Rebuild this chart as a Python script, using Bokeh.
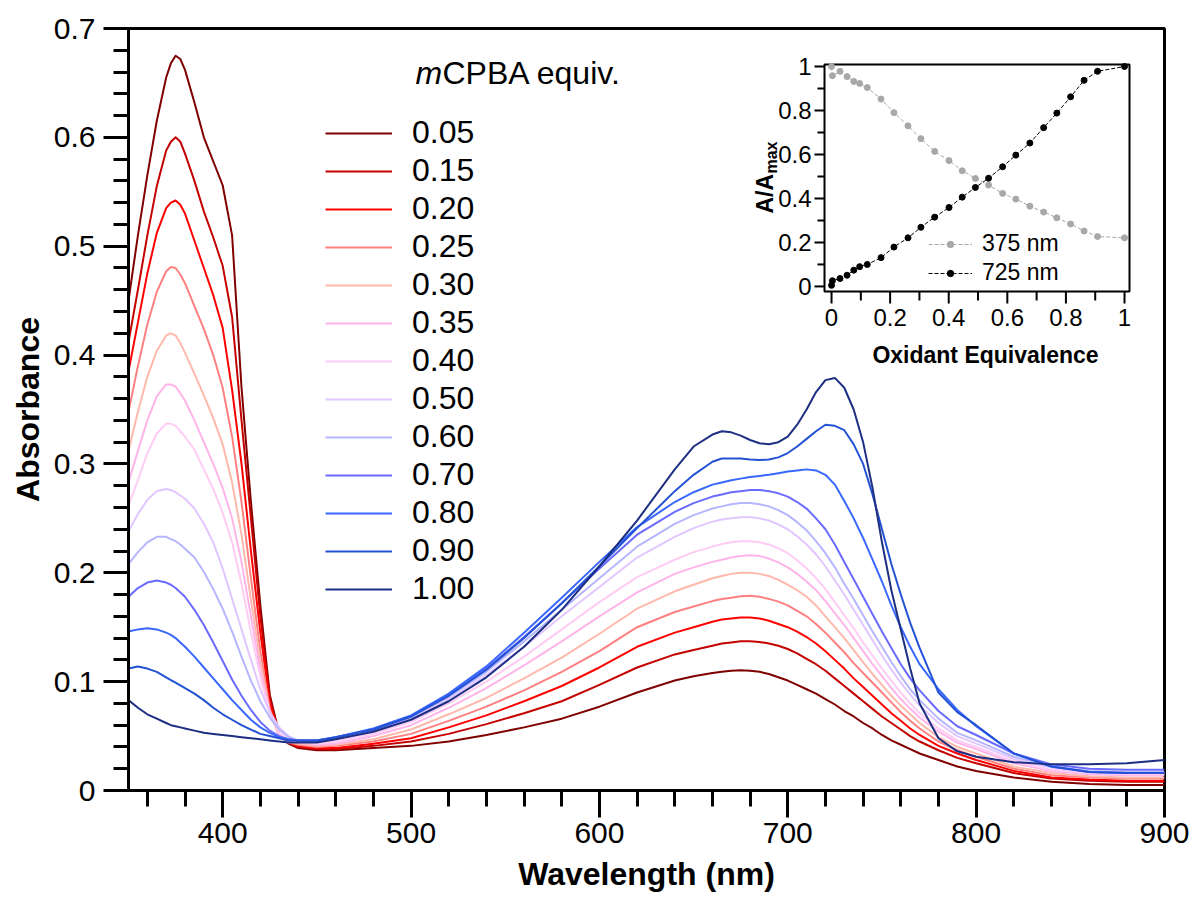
from math import pi
from bokeh.plotting import figure
from bokeh.models import (FixedTicker, Legend, LegendItem, Range1d, CustomJSTickFormatter)
from bokeh.core.properties import value
from bokeh.embed import file_html
from bokeh.resources import INLINE

FONT = "Liberation Sans"

# ---------------- data ----------------
wavelength = [350, 355, 360, 365, 370, 372.5, 375, 377.5, 380, 385, 390, 395, 400, 405, 410, 415, 420, 425, 430, 435, 440,
              450, 460,
              480, 500, 520, 540, 560, 580, 600, 620, 640,
              650, 660, 665, 670, 675, 680, 685, 690, 695, 700, 705,
              710, 715, 720, 725, 730, 735, 740, 745, 750, 755, 760, 765, 770,
              780, 790, 800,
              820, 840, 860, 880, 900]

abs_005 = [0.450, 0.510, 0.565, 0.615, 0.655, 0.668, 0.675, 0.672, 0.662, 0.632, 0.600, 0.578, 0.556, 0.510, 0.370, 0.265, 0.170, 0.088, 0.052, 0.043, 0.039,
           0.037, 0.037,
           0.039, 0.041, 0.045, 0.051, 0.058, 0.066, 0.077, 0.090, 0.101,
           0.105, 0.108, 0.109, 0.110, 0.1105, 0.110, 0.109, 0.107, 0.104, 0.101, 0.097,
           0.093, 0.089, 0.084, 0.079, 0.073, 0.068, 0.062, 0.057, 0.051, 0.046, 0.042, 0.038, 0.034,
           0.028, 0.022, 0.018,
           0.012, 0.008, 0.006, 0.005, 0.005]
abs_015 = [0.412, 0.460, 0.510, 0.555, 0.588, 0.596, 0.600, 0.596, 0.585, 0.560, 0.532, 0.508, 0.482, 0.435, 0.340, 0.250, 0.160, 0.085, 0.052, 0.044, 0.040,
           0.038, 0.038,
           0.041, 0.045, 0.052, 0.061, 0.071, 0.082, 0.097, 0.113, 0.125,
           0.129, 0.133, 0.135, 0.136, 0.137, 0.137, 0.1365, 0.135, 0.133, 0.130, 0.126,
           0.121, 0.116, 0.110, 0.103, 0.096, 0.089, 0.082, 0.075, 0.068, 0.062, 0.056, 0.050, 0.045,
           0.037, 0.030, 0.025,
           0.016, 0.011, 0.009, 0.008, 0.008]
abs_020 = [0.385, 0.430, 0.475, 0.512, 0.535, 0.540, 0.542, 0.538, 0.530, 0.505, 0.480, 0.455, 0.425, 0.368, 0.300, 0.220, 0.145, 0.080, 0.051, 0.044, 0.041,
           0.039, 0.039,
           0.043, 0.048, 0.058, 0.069, 0.082, 0.096, 0.113, 0.132, 0.145,
           0.150, 0.155, 0.157, 0.158, 0.159, 0.159, 0.158, 0.156, 0.153, 0.150, 0.146,
           0.141, 0.135, 0.128, 0.120, 0.112, 0.103, 0.095, 0.087, 0.079, 0.071, 0.064, 0.057, 0.051,
           0.041, 0.034, 0.028,
           0.018, 0.012, 0.010, 0.009, 0.009]
abs_025 = [0.348, 0.390, 0.428, 0.458, 0.477, 0.481, 0.480, 0.474, 0.466, 0.445, 0.424, 0.400, 0.370, 0.325, 0.265, 0.195, 0.128, 0.075, 0.050, 0.044, 0.042,
           0.040, 0.041,
           0.045, 0.052, 0.064, 0.077, 0.092, 0.109, 0.128, 0.150, 0.164,
           0.169, 0.174, 0.176, 0.177, 0.1785, 0.179, 0.178, 0.176, 0.1735, 0.170, 0.165,
           0.160, 0.153, 0.145, 0.136, 0.127, 0.117, 0.108, 0.099, 0.090, 0.081, 0.072, 0.064, 0.057,
           0.045, 0.037, 0.031,
           0.020, 0.014, 0.012, 0.011, 0.011]
abs_030 = [0.312, 0.348, 0.380, 0.404, 0.418, 0.420, 0.418, 0.411, 0.402, 0.383, 0.363, 0.342, 0.318, 0.283, 0.235, 0.175, 0.118, 0.072, 0.050, 0.045, 0.043,
           0.041, 0.042,
           0.047, 0.056, 0.070, 0.085, 0.103, 0.122, 0.144, 0.167, 0.183,
           0.189, 0.195, 0.197, 0.199, 0.200, 0.200, 0.199, 0.197, 0.1935, 0.189, 0.184,
           0.178, 0.170, 0.160, 0.150, 0.140, 0.129, 0.118, 0.107, 0.097, 0.087, 0.078, 0.070, 0.062,
           0.049, 0.040, 0.034,
           0.022, 0.016, 0.013, 0.012, 0.012]
abs_035 = [0.283, 0.312, 0.340, 0.362, 0.373, 0.373, 0.371, 0.365, 0.358, 0.340, 0.320, 0.300, 0.278, 0.250, 0.210, 0.160, 0.110, 0.072, 0.052, 0.046, 0.044,
           0.042, 0.043,
           0.050, 0.060, 0.076, 0.094, 0.115, 0.137, 0.160, 0.182, 0.199,
           0.205, 0.210, 0.212, 0.214, 0.2155, 0.216, 0.2155, 0.213, 0.2095, 0.205, 0.199,
           0.192, 0.184, 0.174, 0.163, 0.152, 0.140, 0.128, 0.116, 0.105, 0.094, 0.084, 0.075, 0.067,
           0.054, 0.044, 0.038,
           0.025, 0.018, 0.015, 0.014, 0.014]
abs_040 = [0.262, 0.285, 0.310, 0.328, 0.337, 0.337, 0.335, 0.330, 0.325, 0.313, 0.295, 0.277, 0.255, 0.228, 0.190, 0.145, 0.104, 0.071, 0.053, 0.047, 0.045,
           0.043, 0.045,
           0.052, 0.063, 0.080, 0.100, 0.123, 0.148, 0.173, 0.196, 0.212,
           0.219, 0.224, 0.2265, 0.228, 0.229, 0.229, 0.228, 0.226, 0.2225, 0.218, 0.2115,
           0.204, 0.195, 0.185, 0.173, 0.161, 0.149, 0.136, 0.124, 0.112, 0.101, 0.090, 0.080, 0.071,
           0.057, 0.046, 0.040,
           0.027, 0.019, 0.016, 0.015, 0.015]
abs_050 = [0.238, 0.254, 0.267, 0.275, 0.277, 0.276, 0.274, 0.271, 0.268, 0.259, 0.245, 0.228, 0.204, 0.176, 0.148, 0.120, 0.093, 0.072, 0.058, 0.050, 0.046,
           0.045, 0.047,
           0.054, 0.066, 0.084, 0.106, 0.132, 0.160, 0.187, 0.214, 0.233,
           0.241, 0.247, 0.249, 0.250, 0.251, 0.251, 0.250, 0.248, 0.2445, 0.240, 0.2335,
           0.226, 0.217, 0.206, 0.193, 0.180, 0.166, 0.152, 0.138, 0.124, 0.111, 0.099, 0.088, 0.078,
           0.062, 0.050, 0.043,
           0.029, 0.021, 0.017, 0.016, 0.016]
abs_060 = [0.208, 0.219, 0.228, 0.233, 0.233, 0.231, 0.229, 0.226, 0.222, 0.214, 0.201, 0.185, 0.167, 0.146, 0.123, 0.101, 0.082, 0.067, 0.056, 0.049, 0.046,
           0.045, 0.048,
           0.055, 0.067, 0.086, 0.109, 0.137, 0.166, 0.195, 0.224, 0.245,
           0.253, 0.259, 0.261, 0.263, 0.264, 0.264, 0.263, 0.261, 0.2575, 0.253, 0.2465,
           0.239, 0.229, 0.218, 0.205, 0.190, 0.176, 0.161, 0.146, 0.132, 0.118, 0.105, 0.093, 0.083,
           0.066, 0.053, 0.046,
           0.031, 0.022, 0.018, 0.017, 0.017]
abs_070 = [0.178, 0.186, 0.191, 0.193, 0.191, 0.189, 0.186, 0.182, 0.178, 0.166, 0.152, 0.136, 0.119, 0.102, 0.087, 0.074, 0.063, 0.055, 0.050, 0.047, 0.046,
           0.046, 0.049,
           0.056, 0.068, 0.088, 0.112, 0.141, 0.172, 0.204, 0.235, 0.256,
           0.264, 0.270, 0.272, 0.274, 0.275, 0.276, 0.276, 0.275, 0.273, 0.270, 0.265,
           0.259, 0.250, 0.240, 0.226, 0.210, 0.194, 0.178, 0.162, 0.146, 0.131, 0.116, 0.103, 0.092,
           0.073, 0.059, 0.051,
           0.034, 0.024, 0.020, 0.019, 0.019]
abs_080 = [0.146, 0.148, 0.149, 0.148, 0.145, 0.143, 0.140, 0.136, 0.132, 0.123, 0.113, 0.103, 0.093, 0.083, 0.074, 0.065, 0.058, 0.053, 0.049, 0.047, 0.046,
           0.046, 0.049,
           0.057, 0.069, 0.089, 0.114, 0.145, 0.177, 0.210, 0.242, 0.265,
           0.274, 0.281, 0.283, 0.285, 0.2865, 0.288, 0.289, 0.290, 0.2915, 0.293, 0.294,
           0.295, 0.294, 0.290, 0.281, 0.266, 0.250, 0.232, 0.212, 0.192, 0.170, 0.150, 0.132, 0.116,
           0.093, 0.074, 0.059,
           0.034, 0.022, 0.017, 0.016, 0.016]
abs_090 = [0.112, 0.114, 0.112, 0.109, 0.104, 0.1015, 0.099, 0.0965, 0.094, 0.089, 0.083, 0.076, 0.070, 0.065, 0.060, 0.056, 0.052, 0.050, 0.048, 0.046, 0.046,
           0.046, 0.049,
           0.056, 0.068, 0.087, 0.111, 0.140, 0.172, 0.206, 0.241, 0.275,
           0.290, 0.302, 0.305, 0.305, 0.305, 0.304, 0.3035, 0.304, 0.306, 0.310, 0.316,
           0.323, 0.330, 0.336, 0.335, 0.331, 0.318, 0.300, 0.272, 0.240, 0.208, 0.180, 0.154, 0.131,
           0.090, 0.072, 0.060,
           0.034, 0.022, 0.017, 0.016, 0.016]
abs_100 = [0.083, 0.076, 0.070, 0.066, 0.062, 0.060, 0.059, 0.058, 0.057, 0.055, 0.053, 0.052, 0.051, 0.050, 0.049, 0.048, 0.047, 0.046, 0.045, 0.044, 0.044,
           0.044, 0.047,
           0.054, 0.065, 0.082, 0.104, 0.132, 0.166, 0.206, 0.248, 0.295,
           0.316, 0.327, 0.330, 0.329, 0.326, 0.322, 0.319, 0.318, 0.320, 0.325, 0.336,
           0.350, 0.366, 0.377, 0.379, 0.370, 0.350, 0.320, 0.278, 0.228, 0.184, 0.148, 0.112, 0.080,
           0.048, 0.036, 0.031,
           0.026, 0.024, 0.024, 0.025, 0.028]

equiv_labels = ["0.05", "0.15", "0.20", "0.25", "0.30", "0.35", "0.40", "0.50", "0.60", "0.70", "0.80", "0.90", "1.00"]
spectra = [abs_005, abs_015, abs_020, abs_025, abs_030, abs_035, abs_040, abs_050, abs_060, abs_070, abs_080, abs_090, abs_100]
colors = ["#800000", "#c40000", "#ff0000", "#ff8080", "#ffb8ac", "#ffb4ea", "#ffccf4", "#e2c6ff",
          "#b6b6ff", "#6a6aff", "#3a68ff", "#2452d4", "#1c2f82"]

main_xticks = [400, 500, 600, 700, 800, 900]
main_xminor = [360, 380, 420, 440, 460, 480, 520, 540, 560, 580, 620, 640, 660, 680,
               720, 740, 760, 780, 820, 840, 860, 880]
main_yticks = [0, 0.1, 0.2, 0.3, 0.4, 0.5, 0.6, 0.7]
main_yminor = [0.02, 0.04, 0.06, 0.08, 0.12, 0.14, 0.16, 0.18, 0.22, 0.24, 0.26, 0.28,
               0.32, 0.34, 0.36, 0.38, 0.42, 0.44, 0.46, 0.48, 0.52, 0.54, 0.56, 0.58,
               0.62, 0.64, 0.66, 0.68]

# inset data (normalised absorbance vs oxidant equivalents)
inset_equiv = [0.0, 0.003, 0.029, 0.053, 0.076, 0.096, 0.122, 0.169, 0.213, 0.261, 0.305, 0.352, 0.401,
               0.446, 0.491, 0.536, 0.584, 0.629, 0.677, 0.724, 0.769, 0.816, 0.862, 0.908, 1.0]
norm_375 = [1.0, 0.958, 0.978, 0.954, 0.932, 0.923, 0.904, 0.852, 0.790, 0.730, 0.672, 0.614, 0.572,
            0.526, 0.491, 0.461, 0.423, 0.397, 0.365, 0.338, 0.312, 0.284, 0.252, 0.227, 0.221]
norm_725 = [0.005, 0.026, 0.036, 0.051, 0.074, 0.090, 0.100, 0.131, 0.179, 0.221, 0.269, 0.315, 0.359,
            0.406, 0.450, 0.492, 0.544, 0.597, 0.652, 0.722, 0.788, 0.862, 0.937, 0.978, 1.0]
inset_ticks = [0, 0.2, 0.4, 0.6, 0.8, 1.0]
inset_tick_labels = ["0", "0.2", "0.4", "0.6", "0.8", "1"]
inset_minor = [0.1, 0.3, 0.5, 0.7, 0.9]

# ---------------- layout constants (pixels) ----------------
ML, MR, MT, MB = 128, 1164, 28, 790          # main frame
IL, IR, IT, IB = 824, 1129, 64, 291          # inset frame
ix0, ix1, iy0, iy1 = -0.024, 1.017, -0.023, 1.009
sx = (IR - IL) / (ix1 - ix0)
sy = (IB - IT) / (iy1 - iy0)
px_per_nm = (MR - ML) / 550
px_per_abs = (MB - MT) / 0.7

fmt = CustomJSTickFormatter(code="return Number(tick.toFixed(3)).toString();")

# ---------------- main figure ----------------
p = figure(frame_width=MR - ML, frame_height=MB - MT, x_range=Range1d(350, 900), y_range=Range1d(0, 0.7),
           output_backend="svg", toolbar_location=None,
           min_border_left=ML, min_border_top=MT, min_border_right=32, min_border_bottom=10,
           background_fill_color="white", border_fill_color="white")
p.extra_x_ranges = {"ix": Range1d(ix0 - (IL - ML) / sx, ix1 + (MR - IR) / sx)}
p.extra_y_ranges = {"iy": Range1d(iy0 - (MB - IB) / sy, iy1 + (IT - MT) / sy)}
p.xgrid.visible = False
p.ygrid.visible = False
p.outline_line_color = "black"
p.outline_line_width = 3
p.outline_line_alpha = 1

renderers = []
for vals, col in zip(spectra, colors):
    r = p.line(wavelength, vals, line_color=col, line_width=2, line_join="round")
    renderers.append(r)

for ax in (p.xaxis[0], p.yaxis[0]):
    ax.axis_line_width = 3
    ax.major_tick_line_width = 3
    ax.minor_tick_line_width = 3
    ax.major_tick_in = 0
    ax.minor_tick_in = 0
    ax.major_label_text_font = FONT
    ax.major_label_text_font_size = "30px"
    ax.major_label_text_color = "black"
    ax.axis_label_text_font = FONT
    ax.axis_label_text_font_size = "32px"
    ax.axis_label_text_font_style = "bold"
    ax.axis_label_text_color = "black"
    ax.formatter = fmt

p.xaxis[0].ticker = FixedTicker(ticks=main_xticks, minor_ticks=main_xminor)
p.yaxis[0].ticker = FixedTicker(ticks=main_yticks, minor_ticks=main_yminor)
p.xaxis[0].major_tick_out = 27
p.xaxis[0].minor_tick_out = 16
p.yaxis[0].major_tick_out = 25
p.yaxis[0].minor_tick_out = 15
p.xaxis[0].major_label_standoff = 5
p.yaxis[0].major_label_standoff = 8
p.xaxis[0].axis_label = "Wavelength (nm)"
p.yaxis[0].axis_label = "Absorbance"
p.xaxis[0].axis_label_standoff = 10
p.yaxis[0].axis_label_standoff = 5

legend = Legend(items=[LegendItem(label=lab, renderers=[r]) for lab, r in zip(equiv_labels, renderers)],
                location=(197, 183), padding=0, margin=0, spacing=1,
                glyph_width=67, glyph_height=30, label_height=30, label_standoff=20,
                label_text_font=FONT, label_text_font_size="32px", label_text_color="black",
                background_fill_alpha=0, border_line_alpha=0)
p.add_layout(legend)

# legend title with italic "m"
title_x = 350 + (415 - ML) / px_per_nm
title_y = (MB - 72) / px_per_abs
p.text(x=[title_x], y=[title_y], text=["m"], text_font=value(FONT), text_font_size="32px",
       text_font_style="italic", text_baseline="middle", text_align="left", text_color="black")
p.text(x=[title_x + 27 / px_per_nm], y=[title_y], text=["CPBA equiv."], text_font=value(FONT),
       text_font_size="32px", text_baseline="middle", text_align="left", text_color="black")

# ---------------- inset (drawn on extra ranges) ----------------
R = dict(x_range_name="ix", y_range_name="iy")
p.quad(left=[ix0], right=[ix1], bottom=[iy0], top=[iy1], fill_color="white", line_color="black",
       line_width=2, **R)
# ticks
p.segment(x0=inset_ticks, y0=[iy0] * 6, x1=inset_ticks, y1=[iy0 - 12 / sy] * 6, line_color="black", line_width=2, **R)
p.segment(x0=inset_minor, y0=[iy0] * 5, x1=inset_minor, y1=[iy0 - 9 / sy] * 5, line_color="black", line_width=2, **R)
p.segment(x0=[ix0] * 6, y0=inset_ticks, x1=[ix0 - 10 / sx] * 6, y1=inset_ticks, line_color="black", line_width=2, **R)
p.segment(x0=[ix0] * 5, y0=inset_minor, x1=[ix0 - 7 / sx] * 5, y1=inset_minor, line_color="black", line_width=2, **R)
# tick labels
p.text(x=inset_ticks, y=[iy0 - 17 / sy] * 6, text=inset_tick_labels, text_align="center", text_baseline="top",
       text_font=value(FONT), text_font_size="24px", text_color="black", **R)
p.text(x=[ix0 - 13 / sx] * 6, y=inset_ticks, text=inset_tick_labels, text_align="right", text_baseline="middle",
       text_font=value(FONT), text_font_size="24px", text_color="black", **R)
# axis labels
p.text(x=[ix0 + (985 - IL) / sx], y=[iy0 - (354 - IB) / sy], text=["Oxidant Equivalence"], text_align="center",
       text_baseline="middle", text_font=value(FONT), text_font_size="23px", text_font_style="bold",
       text_color="black", **R)
p.text(x=[ix0 - (IL - 764) / sx], y=[iy0 + (IB - 213) / sy], text=["A/A"], angle=pi / 2, text_align="left",
       text_baseline="middle", text_font=value(FONT), text_font_size="23px", text_font_style="bold",
       text_color="black", **R)
p.text(x=[ix0 - (IL - 771) / sx], y=[iy0 + (IB - 173) / sy], text=["max"], angle=pi / 2, text_align="left",
       text_baseline="middle", text_font=value(FONT), text_font_size="16px", text_font_style="bold",
       text_color="black", **R)
# series
l375 = p.line(inset_equiv, norm_375, line_color="#a8a8a8", line_width=1, line_dash="4 2", **R)
s375 = p.scatter(inset_equiv, norm_375, size=6, fill_color="#a8a8a8", line_color="#a8a8a8", **R)
l725 = p.line(inset_equiv, norm_725, line_color="black", line_width=1, line_dash="4 2", **R)
s725 = p.scatter(inset_equiv, norm_725, size=6, fill_color="black", line_color="black", **R)

legend2 = Legend(items=[LegendItem(label="375 nm", renderers=[l375, s375]),
                        LegendItem(label="725 nm", renderers=[l725, s725])],
                 location=(928 - ML, MB - 286), padding=0, margin=0, spacing=2,
                 glyph_width=44, glyph_height=16, label_height=26, label_standoff=10,
                 label_text_font=FONT, label_text_font_size="23px", label_text_color="black",
                 background_fill_alpha=0, border_line_alpha=0)
p.add_layout(legend2)

open("out.html", "w").write(file_html(p, INLINE))
